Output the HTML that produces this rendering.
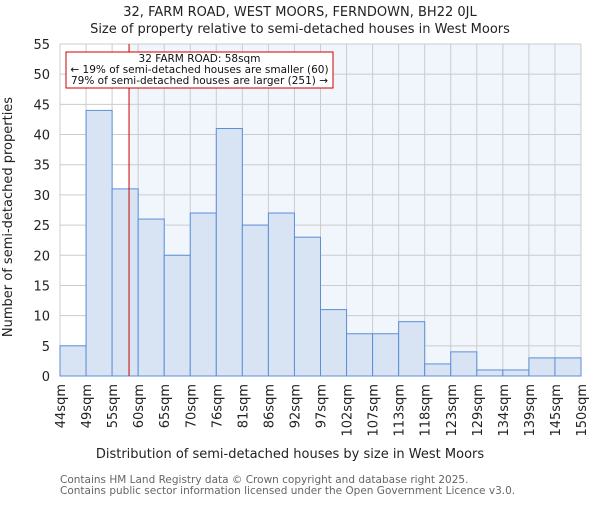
<!DOCTYPE html>
<html><head><meta charset="utf-8"><style>
body{margin:0;background:#fff}
svg text{font-family:"DejaVu Sans","Liberation Sans",sans-serif}
</style></head><body>
<svg width="600" height="500" viewBox="0 0 600 500" xmlns="http://www.w3.org/2000/svg">
<g id="chart"></g>
</svg>
<script>
const categories=["44sqm","49sqm","55sqm","60sqm","65sqm","70sqm","76sqm","81sqm","86sqm","92sqm","97sqm","102sqm","107sqm","113sqm","118sqm","123sqm","129sqm","134sqm","139sqm","145sqm","150sqm"];
const counts=[5,44,31,26,20,27,41,25,27,23,11,7,7,9,2,4,1,1,3,3];
const yTicks=[0,5,10,15,20,25,30,35,40,45,50,55];
const markerBin=2.65;
const ns="http://www.w3.org/2000/svg";
const g=document.getElementById('chart');
const L=60,R=581,T=44,B=376,yMax=55;
const n=counts.length,bw=(R-L)/n;
const xs=i=>L+i*bw, ys=v=>B-(v/yMax)*(B-T);
function mk(t,a,txt){const e=document.createElementNS(ns,t);for(const k in a)e.setAttribute(k,a[k]);if(txt!=null)e.textContent=txt;g.appendChild(e);return e;}
const mx=xs(markerBin);
let e=mk('rect',{x:L,y:T,width:mx-L,height:B-T,fill:'#ffffff'});


e=mk('rect',{x:mx,y:T,width:R-mx,height:B-T,fill:'#f1f5fc'});


yTicks.forEach(v=>{
 e=mk('line',{x1:L,x2:R,y1:ys(v),y2:ys(v),stroke:'#cccccc','stroke-width':1});
 
 
 e=mk('text',{x:50,y:ys(v)+5,'text-anchor':'end','font-size':13,fill:'#222'},v);
 
 
});
categories.forEach((c,i)=>{
 e=mk('line',{x1:xs(i),x2:xs(i),y1:T,y2:B,stroke:'#cccccc','stroke-width':1});
 
 
});
counts.forEach((v,i)=>{
 e=mk('rect',{x:xs(i),y:ys(v),width:bw,height:B-ys(v),fill:'#d8e3f4',stroke:'#5b8fd6','stroke-width':1});
 
 
});
categories.forEach((c,i)=>{
 const x=xs(i)+5;
 e=mk('text',{x:x,y:384,'text-anchor':'end','font-size':13,fill:'#222',transform:`rotate(-90 ${x} 384)`},c);
 
 
});
e=mk('line',{x1:mx,x2:mx,y1:T,y2:B,stroke:'#cc0000','stroke-width':1});


e=mk('rect',{x:66,y:52,width:267,height:36,fill:'#fff',stroke:'#cc0000','stroke-width':1});


[["32 FARM ROAD: 58sqm",62],["← 19% of semi-detached houses are smaller (60)",73],["79% of semi-detached houses are larger (251) →",84]].forEach(([t,y])=>{
 e=mk('text',{x:199.5,y:y,'text-anchor':'middle','font-size':10.5,fill:'#111'},t);
 
 
});
e=mk('text',{x:300,y:16,'text-anchor':'middle','font-size':13,fill:'#222'},"32, FARM ROAD, WEST MOORS, FERNDOWN, BH22 0JL");


e=mk('text',{x:300,y:33,'text-anchor':'middle','font-size':13,fill:'#222'},"Size of property relative to semi-detached houses in West Moors");


e=mk('text',{x:290,y:458,'text-anchor':'middle','font-size':13,fill:'#222'},"Distribution of semi-detached houses by size in West Moors");


e=mk('text',{x:12,y:217,'text-anchor':'middle','font-size':13,fill:'#222',transform:'rotate(-90 12 217)'},"Number of semi-detached properties");


e=mk('text',{x:60,y:483,'font-size':10.5,fill:'#666'},"Contains HM Land Registry data © Crown copyright and database right 2025.");


e=mk('text',{x:60,y:494,'font-size':10.5,fill:'#666'},"Contains public sector information licensed under the Open Government Licence v3.0.");


</script>
</body></html>
